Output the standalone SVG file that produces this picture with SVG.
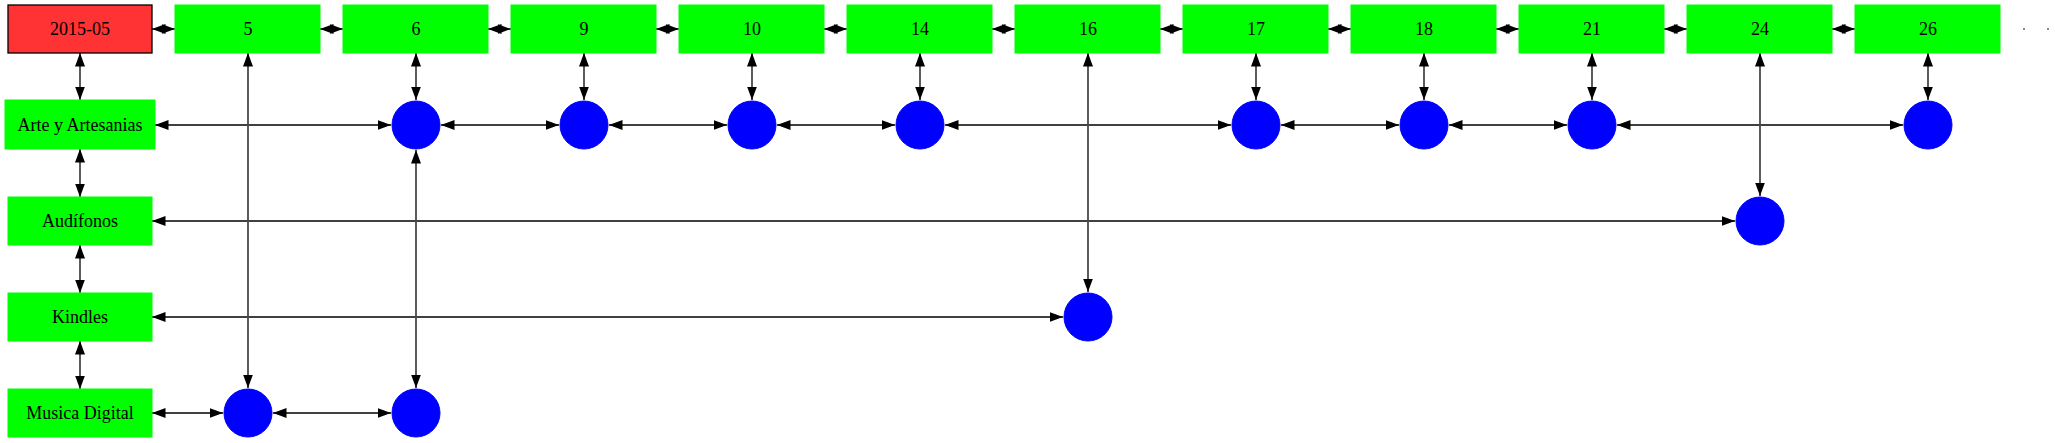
<svg xmlns="http://www.w3.org/2000/svg" width="2055" height="443" viewBox="0 0 2055 443">
<style>
.box{fill:#00ff00;stroke:#00ff00;stroke-width:1}
.red{fill:#ff3333;stroke:#000;stroke-width:1.3}
.dot{fill:#0000ff;stroke:#0000ff;stroke-width:1}
.lbl{font-family:"Liberation Serif","Times New Roman",serif;font-size:18px;fill:#000;text-anchor:middle;dominant-baseline:central}
.e{stroke:#000;stroke-width:1.3;fill:none;marker-start:url(#ah);marker-end:url(#ah)}
.v{stroke:#4a4a4a;stroke-width:1.8}
</style>
<defs>
<marker id="ah" markerUnits="userSpaceOnUse" markerWidth="15" markerHeight="11" refX="13.5" refY="5" orient="auto-start-reverse">
<path d="M0,0 L13.5,5 L0,10 z" fill="#000"/>
</marker>
</defs>
<rect width="2055" height="443" fill="#fff"/>
<g id="connectors">
<line class="e" x1="152" y1="29" x2="175" y2="29"/>
<line class="e" x1="320" y1="29" x2="343" y2="29"/>
<line class="e" x1="488" y1="29" x2="511" y2="29"/>
<line class="e" x1="656" y1="29" x2="679" y2="29"/>
<line class="e" x1="824" y1="29" x2="847" y2="29"/>
<line class="e" x1="992" y1="29" x2="1015" y2="29"/>
<line class="e" x1="1160" y1="29" x2="1183" y2="29"/>
<line class="e" x1="1328" y1="29" x2="1351" y2="29"/>
<line class="e" x1="1496" y1="29" x2="1519" y2="29"/>
<line class="e" x1="1664" y1="29" x2="1687" y2="29"/>
<line class="e" x1="1832" y1="29" x2="1855" y2="29"/>
<line class="e v" x1="80" y1="53" x2="80" y2="100"/>
<line class="e v" x1="80" y1="149" x2="80" y2="197"/>
<line class="e v" x1="80" y1="245" x2="80" y2="293"/>
<line class="e v" x1="80" y1="341" x2="80" y2="389"/>
<line class="e" x1="155" y1="125" x2="391" y2="125"/>
<line class="e" x1="441" y1="125" x2="559" y2="125"/>
<line class="e" x1="609" y1="125" x2="727" y2="125"/>
<line class="e" x1="777" y1="125" x2="895" y2="125"/>
<line class="e" x1="945" y1="125" x2="1231" y2="125"/>
<line class="e" x1="1281" y1="125" x2="1399" y2="125"/>
<line class="e" x1="1449" y1="125" x2="1567" y2="125"/>
<line class="e" x1="1617" y1="125" x2="1903" y2="125"/>
<line class="e" x1="152" y1="221" x2="1735" y2="221"/>
<line class="e" x1="152" y1="317" x2="1063" y2="317"/>
<line class="e" x1="152" y1="413" x2="223" y2="413"/>
<line class="e" x1="273" y1="413" x2="391" y2="413"/>
<line class="e v" x1="248" y1="53" x2="248" y2="388"/>
<line class="e v" x1="416" y1="53" x2="416" y2="100"/>
<line class="e v" x1="416" y1="150" x2="416" y2="388"/>
<line class="e v" x1="584" y1="53" x2="584" y2="100"/>
<line class="e v" x1="752" y1="53" x2="752" y2="100"/>
<line class="e v" x1="920" y1="53" x2="920" y2="100"/>
<line class="e v" x1="1088" y1="53" x2="1088" y2="292"/>
<line class="e v" x1="1256" y1="53" x2="1256" y2="100"/>
<line class="e v" x1="1424" y1="53" x2="1424" y2="100"/>
<line class="e v" x1="1592" y1="53" x2="1592" y2="100"/>
<line class="e v" x1="1760" y1="53" x2="1760" y2="196"/>
<line class="e v" x1="1928" y1="53" x2="1928" y2="100"/>
<rect x="2023" y="28" width="2" height="2" fill="#888"/>
<rect x="2047" y="28" width="2" height="2" fill="#888"/>
</g>
<g id="n-2015-05"><rect class="red" x="8" y="5" width="144" height="48"/><text class="lbl" x="80" y="29">2015-05</text></g>
<g id="n-5"><rect class="box" x="175" y="5" width="145" height="48"/><text class="lbl" x="248" y="29">5</text></g>
<g id="n-6"><rect class="box" x="343" y="5" width="145" height="48"/><text class="lbl" x="416" y="29">6</text></g>
<g id="n-9"><rect class="box" x="511" y="5" width="145" height="48"/><text class="lbl" x="584" y="29">9</text></g>
<g id="n-10"><rect class="box" x="679" y="5" width="145" height="48"/><text class="lbl" x="752" y="29">10</text></g>
<g id="n-14"><rect class="box" x="847" y="5" width="145" height="48"/><text class="lbl" x="920" y="29">14</text></g>
<g id="n-16"><rect class="box" x="1015" y="5" width="145" height="48"/><text class="lbl" x="1088" y="29">16</text></g>
<g id="n-17"><rect class="box" x="1183" y="5" width="145" height="48"/><text class="lbl" x="1256" y="29">17</text></g>
<g id="n-18"><rect class="box" x="1351" y="5" width="145" height="48"/><text class="lbl" x="1424" y="29">18</text></g>
<g id="n-21"><rect class="box" x="1519" y="5" width="145" height="48"/><text class="lbl" x="1592" y="29">21</text></g>
<g id="n-24"><rect class="box" x="1687" y="5" width="145" height="48"/><text class="lbl" x="1760" y="29">24</text></g>
<g id="n-26"><rect class="box" x="1855" y="5" width="145" height="48"/><text class="lbl" x="1928" y="29">26</text></g>
<g id="n-arte"><rect class="box" x="5" y="100" width="150" height="49"/><text class="lbl" x="80" y="125">Arte y Artesanias</text></g>
<g id="n-audifonos"><rect class="box" x="8" y="197" width="144" height="48"/><text class="lbl" x="80" y="221">Audífonos</text></g>
<g id="n-kindles"><rect class="box" x="8" y="293" width="144" height="48"/><text class="lbl" x="80" y="317">Kindles</text></g>
<g id="n-musica"><rect class="box" x="8" y="389" width="144" height="48"/><text class="lbl" x="80" y="413">Musica Digital</text></g>
<g id="c-arte-6"><circle class="dot" cx="416" cy="125" r="24"/></g>
<g id="c-arte-9"><circle class="dot" cx="584" cy="125" r="24"/></g>
<g id="c-arte-10"><circle class="dot" cx="752" cy="125" r="24"/></g>
<g id="c-arte-14"><circle class="dot" cx="920" cy="125" r="24"/></g>
<g id="c-arte-17"><circle class="dot" cx="1256" cy="125" r="24"/></g>
<g id="c-arte-18"><circle class="dot" cx="1424" cy="125" r="24"/></g>
<g id="c-arte-21"><circle class="dot" cx="1592" cy="125" r="24"/></g>
<g id="c-arte-26"><circle class="dot" cx="1928" cy="125" r="24"/></g>
<g id="c-aud-24"><circle class="dot" cx="1760" cy="221" r="24"/></g>
<g id="c-kin-16"><circle class="dot" cx="1088" cy="317" r="24"/></g>
<g id="c-mus-5"><circle class="dot" cx="248" cy="413" r="24"/></g>
<g id="c-mus-6"><circle class="dot" cx="416" cy="413" r="24"/></g>
</svg>
